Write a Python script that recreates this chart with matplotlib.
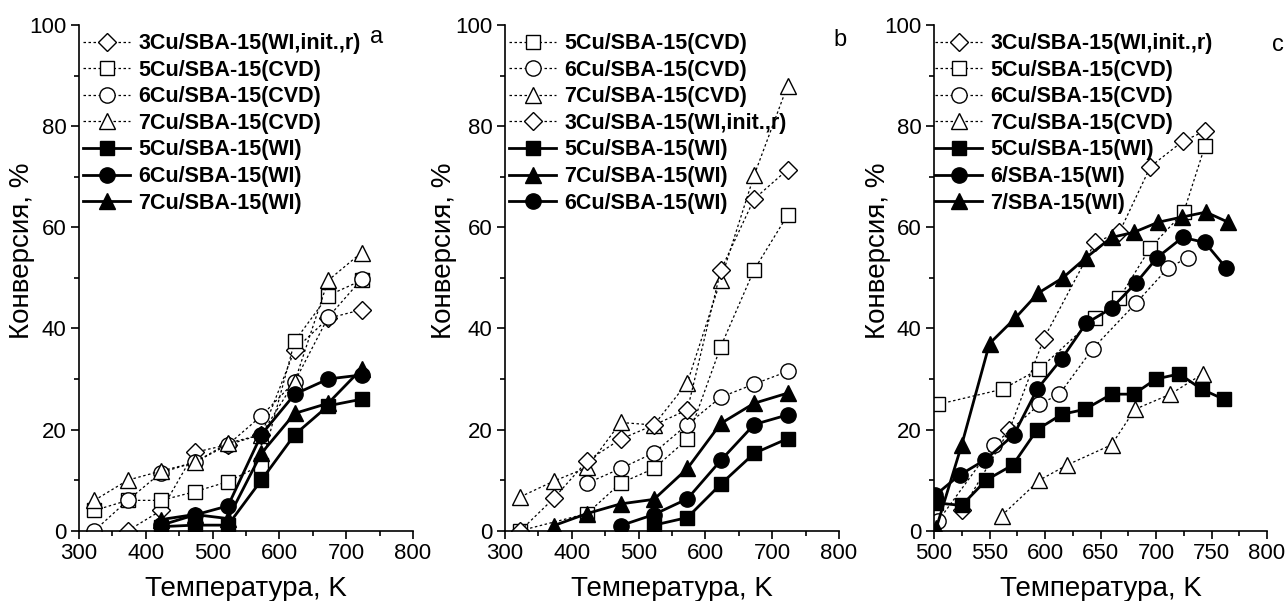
import matplotlib
matplotlib.use("Agg")
import matplotlib.pyplot as plt
from matplotlib.ticker import MultipleLocator

plt.rcParams['font.family'] = ['Liberation Sans', 'DejaVu Sans']

# ---------------- Panel a ----------------
a_T = [323, 373, 423, 473, 523, 573, 623, 673, 723]
a_3Cu_WI_init = [None, 0, 4, 15.5, 17, 19, 35.8, 42, 43.7]
a_5Cu_CVD = [4, 6, 6, 7.7, 9.7, 13, 37.5, 46.5, 49.5]
a_6Cu_CVD = [0, 6, 11.5, 13.5, 17, 22.7, 29.5, 42.2, 49.7]
a_7Cu_CVD = [6, 10, 11.8, 13.5, 17.3, 19, 29.5, 49.5, 55]
a_T_WI = [423, 473, 523, 573, 623, 673, 723]
a_5Cu_WI = [0.8, 1.1, 1.1, 10, 19, 24.7, 26]
a_6Cu_WI = [1.1, 3.1, 4.9, 19, 27, 30, 30.8]
a_7Cu_WI = [2.2, 3.2, 2.4, 15.3, 23.2, 25.2, 32]

# ---------------- Panel b ----------------
b_T = [323, 373, 423, 473, 523, 573, 623, 673, 723]
b_5Cu_CVD = [0, None, 3.4, 9.4, 12.3, 18.1, 36.4, 51.6, 62.4]
b_6Cu_CVD = [None, None, 9.4, 12.3, 15.4, 21, 26.4, 29, 31.5]
b_7Cu_CVD = [6.7, 9.8, 12.5, 21.4, 20.9, 29.3, 49.6, 70.3, 88]
b_3Cu_WI_init = [0, 6.4, 13.8, 18.1, 20.9, 23.9, 51.5, 65.6, 71.4]
b_5Cu_WI = [None, None, None, None, 1.1, 2.6, 9.2, 15.3, 18.2]
b_7Cu_WI = [None, 1, 3.4, 5.3, 6.2, 12.3, 21.2, 25.2, 27.2]
b_6Cu_WI = [None, None, None, 1, 3.2, 6.3, 13.9, 21, 22.9]

# ---------------- Panel c ----------------
c_T_3Cu = [525, 568, 599, 645, 667, 695, 724, 744]
c_3Cu_WI_init = [4, 20, 38, 57, 59, 72, 77, 79]
c_T_5CVD = [504, 562, 595, 645, 667, 695, 725, 744]
c_5Cu_CVD = [25, 28, 32, 42, 46, 56, 63, 76]
c_T_6CVD = [504, 554, 595, 613, 643, 682, 711, 729]
c_6Cu_CVD = [2, 17, 25, 27, 36, 45, 52, 54]
c_T_7CVD = [561, 595, 620, 660, 681, 713, 742]
c_7Cu_CVD = [3, 10, 13, 17, 24, 27, 31]
c_T_5WI = [502, 525, 547, 571, 593, 615, 636, 660, 680, 700, 721, 741, 761]
c_5Cu_WI = [5.5, 5, 10, 13, 20, 23, 24, 27, 27, 30, 31, 28, 26]
c_T_6WI = [501, 523, 546, 572, 593, 615, 637, 660, 682, 701, 724, 744, 763]
c_6Cu_WI = [7, 11, 14, 19, 28, 34, 41, 44, 49, 54, 58, 57, 52]
c_T_7WI = [502, 525, 550, 573, 594, 616, 637, 660, 680, 702, 723, 745, 765]
c_7Cu_WI = [0.5, 17, 37, 42, 47, 50, 54, 58, 59, 61, 62, 63, 61]

fig = plt.figure(figsize=(12.88, 6.01), dpi=100)
W, H = 1288, 601
bottom = (H - 530.7) / H
height = (530.7 - 25) / H
axes_px = [(79, 334), (505, 334), (934, 333)]
axs = [fig.add_axes([l / W, bottom, w / W, height]) for l, w in axes_px]

open_kw = dict(color='black', lw=0.9, ls=(0, (2, 2)), mfc='white', mec='black', mew=1.0, ms=10)
fill_kw = dict(color='black', lw=2.0, ls='-', mfc='black', mec='black', ms=9.5)


def clean(x, y):
    xs, ys = [], []
    for xi, yi in zip(x, y):
        if yi is not None:
            xs.append(xi)
            ys.append(yi)
    return xs, ys


def plot(ax, x, y, marker, label, kw, ms=None):
    xs, ys = clean(x, y)
    k = dict(kw)
    if ms is not None:
        k['ms'] = ms
    ax.plot(xs, ys, marker=marker, label=label, **k)


# panel a
ax = axs[0]
plot(ax, a_T, a_3Cu_WI_init, 'D', '3Cu/SBA-15(WI,init.,r)', open_kw, ms=9)
plot(ax, a_T, a_5Cu_CVD, 's', '5Cu/SBA-15(CVD)', open_kw, ms=9.5)
plot(ax, a_T, a_6Cu_CVD, 'o', '6Cu/SBA-15(CVD)', open_kw, ms=11)
plot(ax, a_T, a_7Cu_CVD, '^', '7Cu/SBA-15(CVD)', open_kw, ms=11.5)
plot(ax, a_T_WI, a_5Cu_WI, 's', '5Cu/SBA-15(WI)', fill_kw, ms=9.5)
plot(ax, a_T_WI, a_6Cu_WI, 'o', '6Cu/SBA-15(WI)', fill_kw, ms=11)
plot(ax, a_T_WI, a_7Cu_WI, '^', '7Cu/SBA-15(WI)', fill_kw, ms=11.5)

# panel b
ax = axs[1]
plot(ax, b_T, b_5Cu_CVD, 's', '5Cu/SBA-15(CVD)', open_kw, ms=9.5)
plot(ax, b_T, b_6Cu_CVD, 'o', '6Cu/SBA-15(CVD)', open_kw, ms=11)
plot(ax, b_T, b_7Cu_CVD, '^', '7Cu/SBA-15(CVD)', open_kw, ms=11.5)
plot(ax, b_T, b_3Cu_WI_init, 'D', '3Cu/SBA-15(WI,init.,r)', open_kw, ms=9)
plot(ax, b_T, b_5Cu_WI, 's', '5Cu/SBA-15(WI)', fill_kw, ms=9.5)
plot(ax, b_T, b_7Cu_WI, '^', '7Cu/SBA-15(WI)', fill_kw, ms=11.5)
plot(ax, b_T, b_6Cu_WI, 'o', '6Cu/SBA-15(WI)', fill_kw, ms=11)

# panel c
ax = axs[2]
plot(ax, c_T_3Cu, c_3Cu_WI_init, 'D', '3Cu/SBA-15(WI,init.,r)', open_kw, ms=9)
plot(ax, c_T_5CVD, c_5Cu_CVD, 's', '5Cu/SBA-15(CVD)', open_kw, ms=9.5)
plot(ax, c_T_6CVD, c_6Cu_CVD, 'o', '6Cu/SBA-15(CVD)', open_kw, ms=11)
plot(ax, c_T_7CVD, c_7Cu_CVD, '^', '7Cu/SBA-15(CVD)', open_kw, ms=11.5)
plot(ax, c_T_5WI, c_5Cu_WI, 's', '5Cu/SBA-15(WI)', fill_kw, ms=9.5)
plot(ax, c_T_6WI, c_6Cu_WI, 'o', '6/SBA-15(WI)', fill_kw, ms=11)
plot(ax, c_T_7WI, c_7Cu_WI, '^', '7/SBA-15(WI)', fill_kw, ms=11.5)

xlims = [(300, 800), (300, 800), (500, 800)]
xmaj = [100, 100, 50]
ylab_x = [-0.132, -0.144, -0.129]
leg_x = [0.012, 0.012, 0.003]
for i, ax in enumerate(axs):
    ax.set_xlim(*xlims[i])
    ax.set_ylim(0, 100)
    ax.xaxis.set_major_locator(MultipleLocator(xmaj[i]))
    ax.xaxis.set_minor_locator(MultipleLocator(xmaj[i] / 2))
    ax.yaxis.set_major_locator(MultipleLocator(20))
    ax.yaxis.set_minor_locator(MultipleLocator(10))
    for s in ['top', 'right']:
        ax.spines[s].set_visible(False)
    for s in ['left', 'bottom']:
        ax.spines[s].set_linewidth(1.2)
    ax.tick_params(which='major', direction='out', length=6, width=1.2, labelsize=16, pad=3)
    ax.tick_params(which='minor', direction='out', length=3.5, width=1.2)
    ax.set_xlabel('Температура, K', fontsize=20)
    ax.set_ylabel('Конверсия, %', fontsize=20)
    ax.xaxis.set_label_coords(0.5, -0.09)
    ax.yaxis.set_label_coords(ylab_x[i], 0.553)
    ax.legend(loc='upper left', bbox_to_anchor=(leg_x[i], 0.984), frameon=False,
              prop={'weight': 'bold', 'size': 15.5}, handlelength=2.2,
              handletextpad=0.37, labelspacing=0.26, borderaxespad=0.0,
              borderpad=0.0, numpoints=1)

fig.text(377 / W, 1 - 37 / H, 'a', fontsize=17, ha='center', va='center')
fig.text(840 / W, 1 - 40 / H, 'b', fontsize=17, ha='center', va='center')
fig.text(1278 / W, 1 - 45 / H, 'c', fontsize=17, ha='center', va='center')

fig.savefig('out.png', dpi=100)
